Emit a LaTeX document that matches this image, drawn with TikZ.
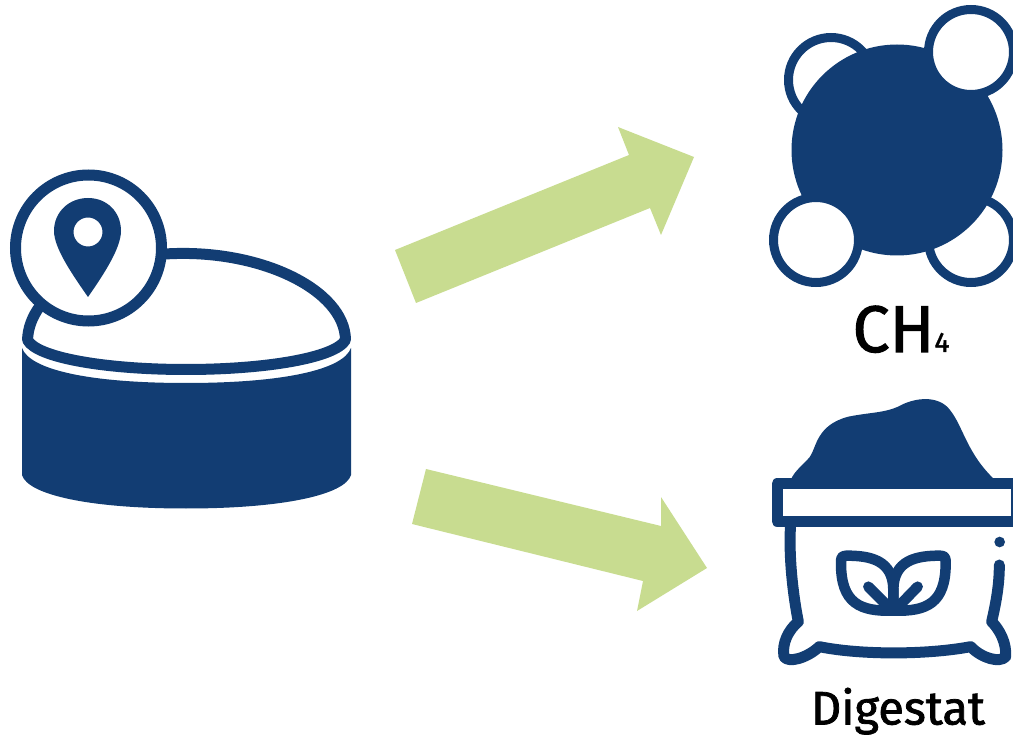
\documentclass[tikz,border=0pt]{standalone}
\usepackage{fontspec}
\setmainfont{Fira Sans}[FakeBold=1.6]
\definecolor{navy}{HTML}{123D73}
\definecolor{leaf}{HTML}{C8DC90}
\tikzset{
  zoomunits/.style={x=0.33333pt,y=-0.33333pt},
  ring/.style={draw=navy,line width=9pt,fill=white},
  outline/.style={draw=navy,line width=11pt,line cap=round,line join=round},
  solid navy/.style={fill=navy,draw=none},
  flow/.style={fill=leaf,draw=none},
  caption/.style={anchor=base,inner sep=0pt,text=black}
}
\begin{document}
\begin{tikzpicture}[x=1pt,y=-1pt]
\useasboundingbox (0,0) rectangle (1013,735);
% flows
\fill[flow] (395,250) -- (629,155) -- (618,127) -- (694,157) -- (661,235) -- (650,208) -- (416,303) -- cycle;
\fill[flow] (426,469) -- (661,526) -- (661,497) -- (707,568) -- (637,611) -- (643,581) -- (412,524) -- cycle;
% tank
\fill[solid navy] (22,348) .. controls (30,370) and (90,383) .. (186,383) .. controls (282,383) and (343,370) .. (351,348)
  -- (351,475) .. controls (345,495) and (282,508.5) .. (186,508.5) .. controls (90,508.5) and (28,495) .. (22,475) -- cycle;
\draw[outline,fill=white] (165,254) .. controls (260,248) and (345,290) .. (345.5,340)
  .. controls (335,358) and (265,369.5) .. (186,369.5) .. controls (107,369.5) and (37,358) .. (27.5,340)
  .. controls (28,328) and (32,317) .. (40,306);
\draw[ring,line width=11pt] (88.5,248) circle[radius=73];
\fill[solid navy,even odd rule] (88,297) .. controls (72,274) and (54,248) .. (54,231)
  .. controls (54,212) and (69,198) .. (88,198) .. controls (107,198) and (121,212) .. (121,231)
  .. controls (121,248) and (104,274) .. (88,297) -- cycle (88,232) circle[radius=14.5];
% methane
\draw[ring] (831,80) circle[radius=42.5];
\draw[ring] (971,240) circle[radius=42.5];
\fill[solid navy] (897,150) circle[radius=105.5];
\draw[ring] (971,52) circle[radius=42.5];
\draw[ring] (816,240) circle[radius=42.5];
\node[caption,font=\fontsize{66}{66}\selectfont] (ch) at (901,352) {CH\fontsize{28}{28}\selectfont 4};
% bag
\begin{scope}[zoomunits,shift={(760pt,-390pt)}]
\fill[solid navy] (92,270) .. controls (105,240) and (130,225) .. (150,200) .. controls (170,170) and (170,105) .. (265,80)
  .. controls (340,65) and (380,70) .. (430,42) .. controls (480,20) and (540,20) .. (570,60)
  .. controls (610,110) and (620,190) .. (705,270) -- cycle;
\draw[outline,line join=round] (51,281) rectangle (770,394);
\draw[outline] (92,400) .. controls (85,500) and (100,620) .. (115,695)
  .. controls (85,720) and (65,760) .. (72,800) .. controls (85,820) and (140,805) .. (178,770)
  .. controls (300,795) and (500,795) .. (632,770) .. controls (665,805) and (720,820) .. (737,800)
  .. controls (740,760) and (720,720) .. (695,695) .. controls (710,630) and (718,580) .. (718,525);
\fill[solid navy] (719,456) circle[radius=16];
\begin{scope}[line width=10.5pt,line cap=round,line join=round]
\draw[navy] (400,662) .. controls (300,665) and (243,640) .. (243,520) .. controls (243,505) and (243,497) .. (260,497)
  .. controls (330,497) and (400,510) .. (400,600) -- cycle;
\draw[navy] (400,662) .. controls (500,665) and (557,640) .. (557,520) .. controls (557,505) and (557,497) .. (540,497)
  .. controls (470,497) and (400,510) .. (400,600) -- cycle;
\draw[navy] (325,590) -- (390,655);
\draw[navy] (473,590) -- (410,655);
\end{scope}
\end{scope}
\node[caption,font=\fontsize{47}{47}\selectfont] (dg) at (898,724.5) {Digestat};
\end{tikzpicture}
\end{document}
